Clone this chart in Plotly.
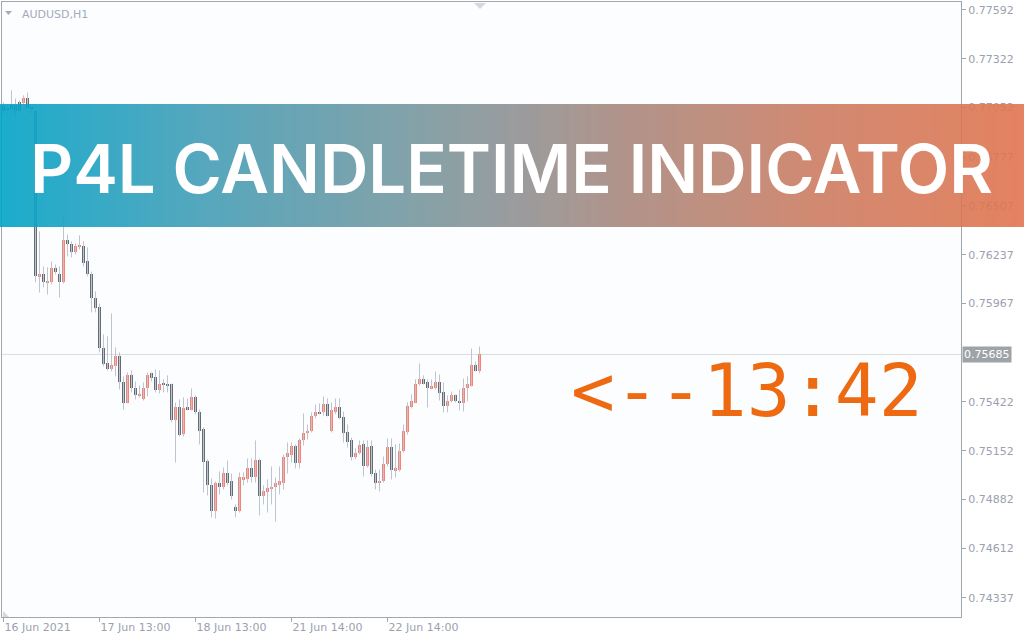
import base64
import struct
import zlib

import plotly.graph_objects as go

# ---------------- data (AUDUSD, H1) ----------------
opens = [0.77058, 0.77052, 0.77064, 0.77064, 0.77080, 0.77075, 0.77102, 0.77052, 0.77030, 0.76117,
         0.76128, 0.76084, 0.76084, 0.76161, 0.76133, 0.76084, 0.76316, 0.76294, 0.76250, 0.76283,
         0.76288, 0.76200, 0.76133, 0.75995, 0.75945, 0.75718, 0.75635, 0.75607, 0.75619, 0.75674,
         0.75535, 0.75419, 0.75569, 0.75502, 0.75458, 0.75436, 0.75502, 0.75580, 0.75558, 0.75486,
         0.75524, 0.75524, 0.75519, 0.75320, 0.75392, 0.75242, 0.75392, 0.75380, 0.75447, 0.75369,
         0.75270, 0.75093, 0.74965, 0.74821, 0.74971, 0.74954, 0.75026, 0.74982, 0.74838, 0.74821,
         0.74993, 0.74998, 0.75059, 0.75004, 0.75098, 0.74904, 0.74921, 0.74938, 0.74949, 0.74965,
         0.74971, 0.75115, 0.75131, 0.75176, 0.75082, 0.75209, 0.75248, 0.75259, 0.75347, 0.75369,
         0.75364, 0.75408, 0.75259, 0.75364, 0.75392, 0.75336, 0.75253, 0.75209, 0.75120, 0.75142,
         0.75187, 0.75065, 0.75176, 0.75026, 0.74976, 0.74987, 0.75076, 0.75170, 0.75043, 0.75048,
         0.75153, 0.75253, 0.75392, 0.75419, 0.75519, 0.75547, 0.75530, 0.75497, 0.75502, 0.75535,
         0.75475, 0.75397, 0.75425, 0.75458, 0.75430, 0.75414, 0.75497, 0.75513, 0.75624, 0.75591]
highs = [0.77080, 0.77069, 0.77147, 0.77102, 0.77091, 0.77119, 0.77135, 0.77058, 0.77036, 0.76366,
         0.76172, 0.76167, 0.76200, 0.76183, 0.76172, 0.76449, 0.76349, 0.76311, 0.76300, 0.76344,
         0.76311, 0.76277, 0.76144, 0.76034, 0.75967, 0.75796, 0.75785, 0.75912, 0.75724, 0.75696,
         0.75563, 0.75585, 0.75596, 0.75535, 0.75513, 0.75530, 0.75585, 0.75585, 0.75602, 0.75596,
         0.75547, 0.75569, 0.75524, 0.75419, 0.75436, 0.75447, 0.75441, 0.75497, 0.75458, 0.75380,
         0.75281, 0.75104, 0.74998, 0.74982, 0.75037, 0.75059, 0.75098, 0.75026, 0.74855, 0.75032,
         0.75032, 0.75109, 0.75109, 0.75209, 0.75109, 0.74960, 0.74993, 0.75065, 0.75004, 0.75065,
         0.75131, 0.75198, 0.75198, 0.75187, 0.75220, 0.75358, 0.75297, 0.75364, 0.75408, 0.75414,
         0.75453, 0.75441, 0.75419, 0.75441, 0.75441, 0.75369, 0.75297, 0.75225, 0.75165, 0.75209,
         0.75209, 0.75209, 0.75209, 0.75048, 0.75048, 0.75120, 0.75220, 0.75220, 0.75187, 0.75192,
         0.75297, 0.75419, 0.75464, 0.75547, 0.75635, 0.75569, 0.75547, 0.75547, 0.75591, 0.75574,
         0.75530, 0.75458, 0.75480, 0.75464, 0.75491, 0.75552, 0.75563, 0.75718, 0.75646, 0.75729]
lows = [0.77019, 0.77014, 0.77025, 0.76997, 0.77025, 0.77069, 0.77047, 0.77014, 0.76084, 0.76028,
        0.76056, 0.76017, 0.76073, 0.76128, 0.76001, 0.76078, 0.76228, 0.76222, 0.76239, 0.76266,
        0.76172, 0.76117, 0.75918, 0.75918, 0.75696, 0.75619, 0.75596, 0.75591, 0.75563, 0.75491,
        0.75380, 0.75414, 0.75475, 0.75436, 0.75447, 0.75430, 0.75453, 0.75535, 0.75475, 0.75469,
        0.75475, 0.75475, 0.75309, 0.75087, 0.75231, 0.75231, 0.75375, 0.75375, 0.75353, 0.75187,
        0.74921, 0.74904, 0.74783, 0.74777, 0.74910, 0.74938, 0.74960, 0.74882, 0.74783, 0.74810,
        0.74960, 0.74976, 0.74976, 0.74976, 0.74794, 0.74855, 0.74810, 0.74855, 0.74760, 0.74910,
        0.74938, 0.75026, 0.75087, 0.75054, 0.75054, 0.75181, 0.75214, 0.75253, 0.75331, 0.75353,
        0.75347, 0.75342, 0.75253, 0.75353, 0.75325, 0.75198, 0.75170, 0.75098, 0.75104, 0.75131,
        0.75010, 0.75059, 0.75010, 0.74938, 0.74927, 0.74976, 0.75065, 0.74993, 0.75004, 0.75037,
        0.75142, 0.75242, 0.75386, 0.75414, 0.75513, 0.75519, 0.75392, 0.75491, 0.75491, 0.75430,
        0.75364, 0.75364, 0.75419, 0.75419, 0.75375, 0.75369, 0.75425, 0.75508, 0.75591, 0.75580]
closes = [0.77030, 0.77036, 0.77041, 0.77030, 0.77030, 0.77102, 0.77052, 0.77047, 0.76117, 0.76128,
          0.76084, 0.76089, 0.76161, 0.76139, 0.76084, 0.76316, 0.76299, 0.76250, 0.76283, 0.76288,
          0.76194, 0.76128, 0.75995, 0.75940, 0.75718, 0.75630, 0.75602, 0.75624, 0.75674, 0.75530,
          0.75419, 0.75569, 0.75497, 0.75458, 0.75464, 0.75497, 0.75574, 0.75552, 0.75486, 0.75524,
          0.75519, 0.75513, 0.75320, 0.75392, 0.75237, 0.75386, 0.75380, 0.75447, 0.75364, 0.75264,
          0.75087, 0.74960, 0.74821, 0.74971, 0.74949, 0.75026, 0.74976, 0.74899, 0.74821, 0.75004,
          0.75004, 0.75059, 0.75004, 0.75098, 0.74904, 0.74927, 0.74943, 0.74954, 0.74971, 0.74982,
          0.75120, 0.75137, 0.75176, 0.75082, 0.75214, 0.75248, 0.75264, 0.75347, 0.75369, 0.75358,
          0.75408, 0.75347, 0.75375, 0.75392, 0.75331, 0.75248, 0.75203, 0.75120, 0.75142, 0.75181,
          0.75065, 0.75170, 0.75021, 0.74976, 0.74987, 0.75076, 0.75170, 0.75043, 0.75054, 0.75153,
          0.75264, 0.75397, 0.75430, 0.75524, 0.75547, 0.75524, 0.75497, 0.75508, 0.75535, 0.75469,
          0.75397, 0.75430, 0.75458, 0.75425, 0.75414, 0.75502, 0.75519, 0.75624, 0.75596, 0.75685]

price_ticks = [0.77592, 0.77322, 0.77052, 0.76777, 0.76507, 0.76237, 0.75967,
               0.75422, 0.75152, 0.74882, 0.74612, 0.74337]
time_tick_bars = [0, 24, 48, 72, 96]
time_tick_labels = ["16 Jun 2021", "17 Jun 13:00", "18 Jun 13:00", "21 Jun 14:00", "22 Jun 14:00"]
current_price = 0.75685
symbol_label = "AUDUSD,H1"
banner_title = "P4L CANDLETIME INDICATOR"
timer_text = "<--13:42"

# ---------------- styles ----------------
W, H = 1024, 640
ML, MR, MT, MB = 2, 63, 2, 23
PW, PH = W - ML - MR, H - MT - MB
BULL = "#fa8072"
BEAR = "#656c76"
WICK = "#bfc5ce"
FRAME = "#a3a7ab"
LABEL = "#9aa1ae"

n = len(opens)
xs = list(range(n))

# wicks
wx, wy = [], []
for i in xs:
    wx += [i, i, None]
    wy += [lows[i], highs[i], None]

bases, heights, cols = [], [], []
for o, c in zip(opens, closes):
    lo, hi = min(o, c), max(o, c)
    bases.append(lo)
    heights.append(max(hi - lo, 0.00004))
    cols.append(BULL if c > o else BEAR)

fig = go.Figure()
fig.add_trace(go.Scatter(x=wx, y=wy, mode="lines", line=dict(color=WICK, width=1),
                         hoverinfo="skip", showlegend=False))
fig.add_trace(go.Bar(x=xs, y=heights, base=bases, width=0.75,
                     marker=dict(color=cols, line=dict(width=0)), showlegend=False))

y_top = 0.77636
y_bot = 0.742316
x0r = -0.375
fig.update_layout(
    width=W, height=H,
    margin=dict(l=ML, r=MR, t=MT, b=MB, autoexpand=False),
    paper_bgcolor="#ffffff", plot_bgcolor="#fcfdfe",
    bargap=0, showlegend=False,
    font=dict(family="DejaVu Sans", size=11, color=LABEL),
    xaxis=dict(range=[x0r, x0r + PW / 4], showgrid=False, zeroline=False, automargin=False,
               showline=True, linecolor=FRAME, linewidth=1, mirror=True,
               tickvals=time_tick_bars, ticktext=time_tick_labels,
               ticks="outside", ticklen=4, tickcolor=FRAME,
               ticklabelposition="outside right",
               tickfont=dict(family="DejaVu Sans", size=11, color=LABEL)),
    yaxis=dict(range=[y_bot, y_top], side="right", showgrid=False, zeroline=False, automargin=False,
               showline=True, linecolor=FRAME, linewidth=1, mirror=True,
               tickvals=price_ticks, ticktext=[f"{v:.5f}" for v in price_ticks],
               ticks="outside", ticklen=4, tickcolor=FRAME,
               tickfont=dict(family="DejaVu Sans", size=11, color=LABEL)),
)

# current price line + label
fig.add_shape(type="line", xref="paper", yref="y", x0=0, x1=1, y0=current_price, y1=current_price,
              line=dict(color="#dadcdf", width=1), layer="below")
fig.add_annotation(xref="paper", yref="y", x=1, y=current_price, xanchor="left", yanchor="middle",
                   text=f"{current_price:.5f}", showarrow=False, xshift=1,
                   bgcolor="#9ea3a8", borderpad=1,
                   font=dict(family="DejaVu Sans", size=11, color="#ffffff"))

# symbol label and little markers
def px_x(X):
    return (X - ML) / PW

def px_y(Y):
    return (MT + PH - Y) / PH

fig.add_annotation(xref="paper", yref="paper", x=px_x(20), y=px_y(14), xanchor="left", yanchor="middle",
                   text=symbol_label, showarrow=False,
                   font=dict(family="DejaVu Sans", size=11, color="#a3aabb"))
fig.add_shape(type="path", xref="paper", yref="paper",
              path=f"M {px_x(5)} {px_y(11)} L {px_x(12)} {px_y(11)} L {px_x(8.5)} {px_y(15)} Z",
              fillcolor="#a8aeb8", line=dict(width=0))
fig.add_shape(type="path", xref="paper", yref="paper",
              path=f"M {px_x(474)} {px_y(3)} L {px_x(486)} {px_y(3)} L {px_x(480)} {px_y(9)} Z",
              fillcolor="#d3d9e0", line=dict(width=0))
fig.add_shape(type="path", xref="paper", yref="paper",
              path=f"M {px_x(3)} {px_y(611)} L {px_x(9)} {px_y(617)} L {px_x(3)} {px_y(617)} Z",
              fillcolor="#d3d9e0", line=dict(width=0))

# gradient banner as a stretched 1-row PNG
stops = [(0.0, (3, 163, 200)), (0.2, (68, 158, 182)), (0.4, (118, 152, 160)),
         (0.5, (143, 146, 148)), (0.6, (167, 137, 128)), (0.8, (205, 125, 98)),
         (1.0, (225, 117, 80))]

def grad(t):
    for (t0, c0), (t1, c1) in zip(stops[:-1], stops[1:]):
        if t <= t1:
            f = (t - t0) / (t1 - t0)
            return tuple(int(round(a + (b - a) * f)) for a, b in zip(c0, c1))
    return stops[-1][1]

row = bytearray()
for X in range(W):
    row += bytes(grad(X / (W - 1)))
raw = b"\x00" + bytes(row)

def chunk(tag, data):
    c = struct.pack(">I", len(data)) + tag + data
    return c + struct.pack(">I", zlib.crc32(tag + data) & 0xffffffff)

png = (b"\x89PNG\r\n\x1a\n" + chunk(b"IHDR", struct.pack(">IIBBBBB", W, 1, 8, 2, 0, 0, 0))
       + chunk(b"IDAT", zlib.compress(raw)) + chunk(b"IEND", b""))
uri = "data:image/png;base64," + base64.b64encode(png).decode()

fig.add_layout_image(source=uri, xref="paper", yref="paper", x=px_x(0), y=px_y(104),
                     sizex=W / PW, sizey=123 / PH, sizing="stretch",
                     xanchor="left", yanchor="top", layer="above", opacity=0.9)

fig.add_annotation(xref="paper", yref="paper", x=px_x(511.5), y=px_y(168.5),
                   xanchor="center", yanchor="middle", text=banner_title, showarrow=False,
                   font=dict(family="Inter", size=67, color="#ffffff", weight=600))

fig.add_annotation(xref="paper", yref="paper", x=px_x(747), y=px_y(390),
                   xanchor="center", yanchor="middle", text=timer_text.replace("<", "&lt;"),
                   showarrow=False,
                   font=dict(family="DejaVu Sans Mono", size=73, color="#ee6a12"))

fig.write_html("out.html", config={"displayModeBar": False},
               post_script="document.body.style.margin='0';document.body.style.overflow='hidden';")
